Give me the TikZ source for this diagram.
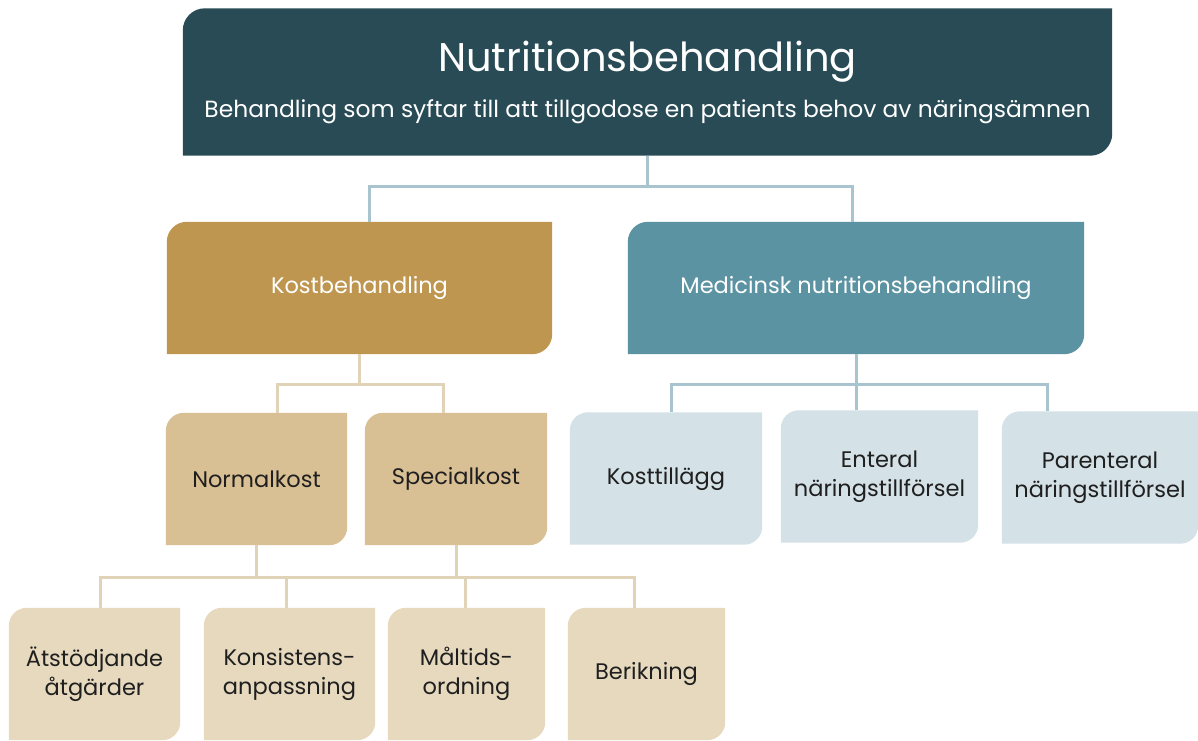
\documentclass[tikz,border=0pt]{standalone}
\usepackage{fontspec}
\setmainfont{Poppins}
\usepackage{tikz}
\usepackage{xcolor}
\usetikzlibrary{backgrounds}
\definecolor{topc}{HTML}{284B56}
\definecolor{kostc}{HTML}{BF9650}
\definecolor{medc}{HTML}{5B93A2}
\definecolor{kleafc}{HTML}{D9BF94}
\definecolor{mleafc}{HTML}{D4E1E6}
\definecolor{bleafc}{HTML}{E6D9BE}
\definecolor{bluelinec}{HTML}{A8C4CE}
\definecolor{beigelinec}{HTML}{E0D3B8}

\begin{document}
\begin{tikzpicture}[x=1pt, y=1pt,
  box/.style={minimum width=#1, minimum height=132pt, inner sep=0pt, align=center,
    text=black!88, font=\fontsize{22.5}{29}\selectfont},
  bluelink/.style={draw=bluelinec, line width=3pt},
  beigelink/.style={draw=beigelinec, line width=3pt}]
\useasboundingbox (0,0) rectangle (1198,-740);
% top
\node[box=929pt, minimum height=147pt, text=white] (top) at (647.5,-82)
  {{\fontsize{40}{44}\selectfont Nutritionsbehandling}\\[17pt]
   {\fontsize{23.4}{27}\selectfont Behandling som syftar till att tillgodose en patients behov av näringsämnen}};
% second level
\node[box=385pt, text=white] (kost) at (359.5,-288) {Kostbehandling};
\node[box=456pt, text=white] (med) at (856,-288) {Medicinsk nutritionsbehandling};
% leaves
\node[box=181pt] (normal) at (256.5,-479) {Normalkost};
\node[box=182pt] (special) at (456,-479) {Specialkost};
\node[box=192pt] (tillagg) at (666,-478.5) {Kosttillägg};
\node[box=197pt] (enteral) at (879.5,-476.5) {Enteral\\näringstillförsel};
\node[box=196pt] (parenteral) at (1100,-477.5) {Parenteral\\näringstillförsel};
\node[box=171pt] (atstod) at (94.5,-674) {Ätstödjande\\åtgärder};
\node[box=171pt] (konsist) at (289.5,-674) {Konsistens-\\anpassning};
\node[box=157pt] (maltid) at (466.5,-674) {Måltids-\\ordning};
\node[box=157pt] (berik) at (646.5,-674) {Berikning};

\begin{scope}[on background layer]
\foreach \n/\c/\r in {top/topc/22, kost/kostc/20, med/medc/20, normal/kleafc/18,
  special/kleafc/18, tillagg/mleafc/18, enteral/mleafc/18, parenteral/mleafc/18,
  atstod/bleafc/18, konsist/bleafc/18, maltid/bleafc/18, berik/bleafc/18}
  \fill[\c] (\n.south west) -- ([yshift=-\r pt]\n.north west)
    arc[start angle=180, end angle=90, radius=\r] -- (\n.north east)
    -- ([yshift=\r pt]\n.south east) arc[start angle=0, end angle=-90, radius=\r] -- cycle;

\draw[bluelink] (top.south) -- ++(0,-31) -| ([xshift=10pt]kost.north);
\draw[bluelink] (top.south) -- ++(0,-31) -| ([xshift=-4pt]med.north);
\foreach \n/\dx in {tillagg/5, enteral/-23.5, parenteral/-53}
  \draw[bluelink] (med.south) -- ++(0,-30) -| ([xshift=\dx pt]\n.north);
\foreach \n/\dx in {normal/20.5, special/-13}
  \draw[beigelink] (kost.south) -- ++(0,-30) -| ([xshift=\dx pt]\n.north);
\foreach \n/\dx in {atstod/5.5, konsist/-3.5, maltid/-1.5}
  \draw[beigelink] (normal.south) -- ++(0,-32) -| ([xshift=\dx pt]\n.north);
\draw[beigelink] (special.south) -- ++(0,-32) -| ([xshift=-12.5pt]berik.north);
\end{scope}
\end{tikzpicture}
\end{document}
